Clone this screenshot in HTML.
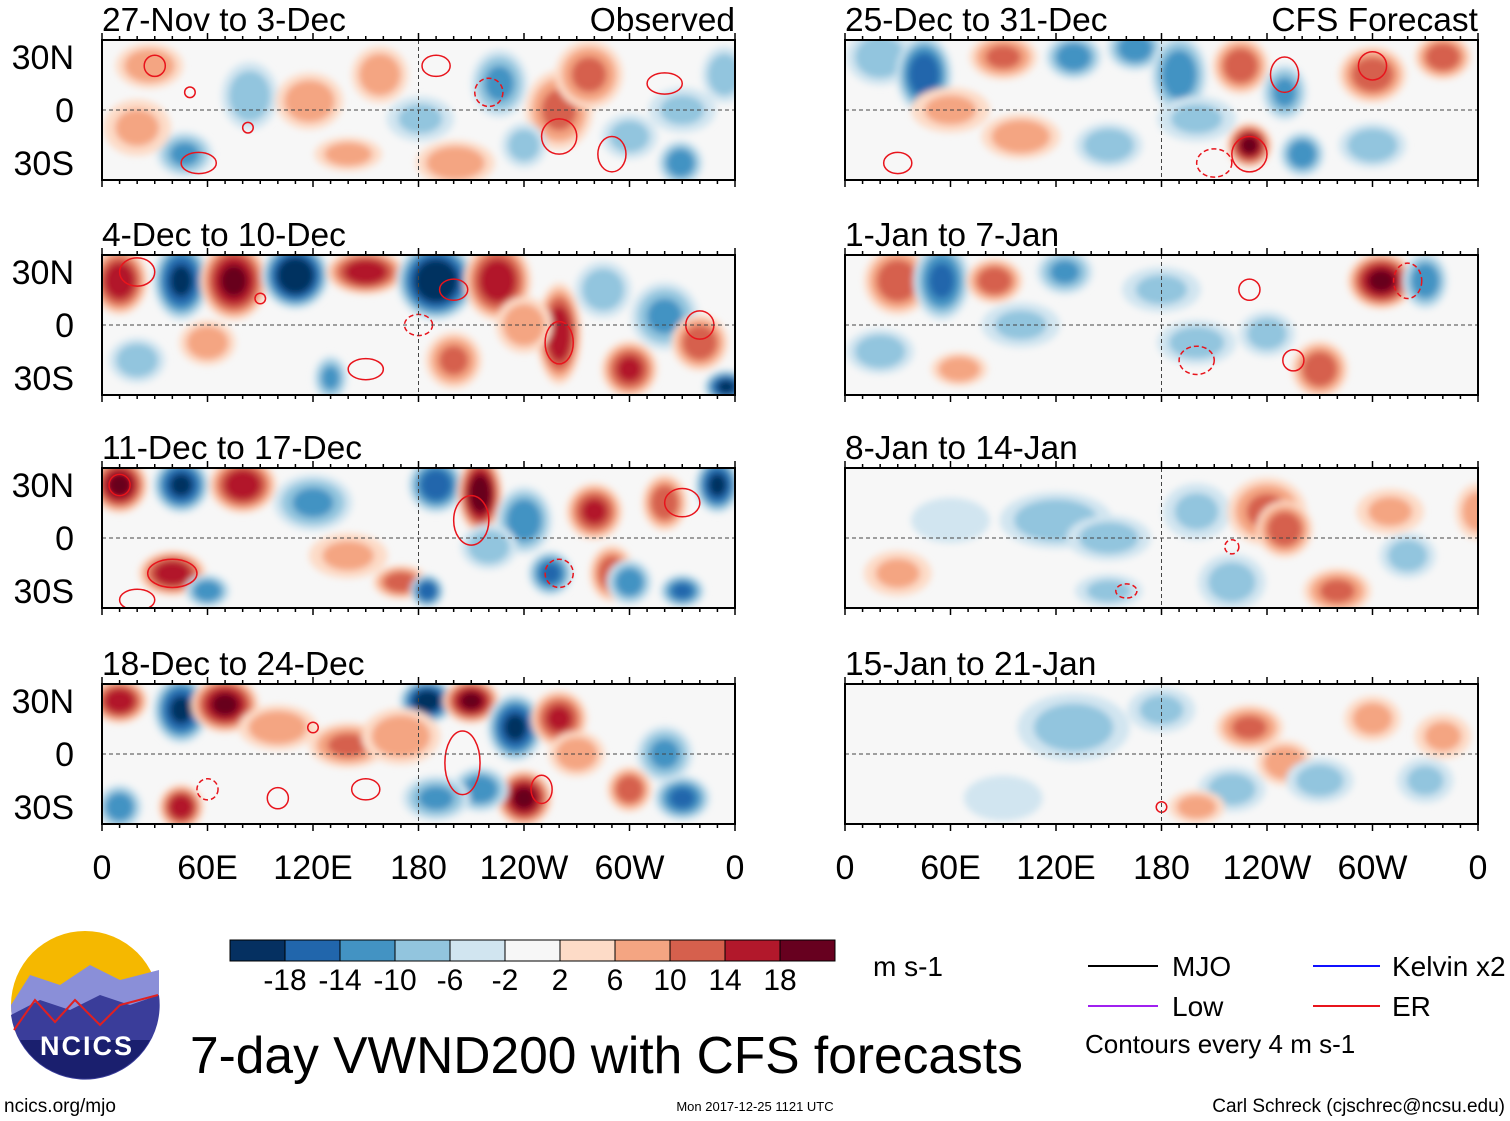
<!DOCTYPE html>
<html><head><meta charset="utf-8"><style>
html,body{margin:0;padding:0;background:#fff;}
body{width:1510px;height:1121px;overflow:hidden;position:relative;font-family:"Liberation Sans",sans-serif;}
svg{position:absolute;left:0;top:0;}
text{font-family:"Liberation Sans",sans-serif;}
</style></head><body>
<svg id="fig" width="1510" height="1121" viewBox="0 0 1510 1121">
<defs>
<filter id="blur" x="-50%" y="-50%" width="200%" height="200%"><feGaussianBlur stdDeviation="3.5"/></filter>
</defs>
<g id="panels"></g>
<g id="legend"></g>
</svg>
<script>
const panelTitles=["27-Nov to 3-Dec","4-Dec to 10-Dec","11-Dec to 17-Dec","18-Dec to 24-Dec","25-Dec to 31-Dec","1-Jan to 7-Jan","8-Jan to 14-Jan","15-Jan to 21-Jan"];
const lonTicks=["0","60E","120E","180","120W","60W","0"];
const latTicks=["30N","0","30S"];
const cbLabels=["-18","-14","-10","-6","-2","2","6","10","14","18"];
const cbColors=["#053061","#2166ac","#4393c3","#92c5de","#d1e5f0","#f7f7f7","#fddbc7","#f4a582","#d6604d","#b2182b","#67001f"];
// anomaly blobs per panel: [lon, lat, value(m/s), lonRadius, latRadius]
const blobs0=[[27,25,6,12,8],[47,-25,-8,10,8],[84,8,-6,10,12],[118,5,6,12,10],[158,20,6,10,10],[181,-5,-4,12,8],[201,-30,6,14,8],[226,15,-8,10,12],[260,0,8,12,14],[277,20,8,12,12],[329,-30,-10,8,8],[354,20,-6,8,10],[300,-15,-5,10,8],[140,-25,5,12,6],[20,-10,4,12,10],[330,0,-4,12,8],[240,-20,-5,8,8]];
const blobs1=[[10,25,14,10,12],[45,25,-16,10,14],[75,25,16,12,14],[110,28,-20,12,12],[150,30,14,14,8],[190,25,-20,14,14],[225,25,14,12,14],[260,-5,14,8,18],[300,-25,12,10,10],[320,5,-8,12,12],[340,-10,10,10,10],[355,-35,-16,8,6],[130,-30,-8,6,8],[60,-10,6,10,8],[200,-20,8,10,10],[285,20,-6,10,10],[240,0,6,10,10],[20,-20,-6,10,8]];
const blobs2=[[10,30,16,10,10],[45,30,-16,10,10],[80,30,14,12,10],[40,-20,14,12,8],[120,20,-8,14,10],[190,30,-14,10,10],[215,25,18,8,14],[240,10,-10,10,12],[255,-20,-12,8,8],[280,15,12,10,10],[290,-20,10,8,10],[320,20,10,8,10],[350,30,-16,8,10],[60,-30,-10,8,6],[170,-25,10,10,6],[185,-30,-14,6,6],[330,-30,-12,8,6],[300,-25,-10,8,8],[140,-10,4,14,8],[220,-5,-6,10,8]];
const blobs3=[[10,30,14,10,8],[45,25,-16,10,12],[70,28,16,12,10],[185,30,-18,10,8],[210,30,16,10,8],[235,15,-16,10,12],[260,20,12,10,10],[240,-25,16,10,10],[215,-20,-10,10,8],[190,-25,-8,12,8],[140,5,8,14,8],[45,-30,14,8,8],[10,-30,-10,8,8],[330,-25,-12,10,8],[320,0,-8,10,10],[300,-20,10,8,8],[170,10,6,14,10],[100,15,6,14,8],[270,0,6,10,8]];
const blobs4=[[20,30,-6,12,10],[45,20,-14,10,14],[90,30,8,12,8],[130,30,-10,10,8],[165,35,-10,10,8],[190,20,-10,10,14],[225,25,10,10,10],[230,-20,16,8,8],[250,10,-8,8,10],[260,-25,-10,8,8],[300,20,10,12,10],[340,30,10,10,8],[100,-15,6,14,8],[150,-20,-6,12,8],[300,-20,-6,12,8],[60,0,4,14,8],[200,-5,-4,14,8]];
const blobs5=[[30,25,10,12,12],[55,25,-12,10,14],[85,25,10,10,8],[125,30,-8,10,8],[270,-25,10,10,10],[305,25,16,12,10],[330,25,-10,8,10],[20,-15,-6,12,8],[65,-25,6,10,6],[200,-10,-5,14,8],[240,-5,-5,10,8],[180,20,-4,14,8],[100,0,-4,14,8]];
const blobs6=[[120,10,-6,20,10],[150,0,-5,15,8],[200,15,-4,12,10],[240,15,8,14,12],[250,5,10,10,10],[280,-30,8,12,8],[220,-25,-5,12,10],[150,-30,-4,12,6],[30,-20,4,12,8],[310,15,4,12,8],[320,-10,-5,10,8],[360,15,5,8,10],[60,10,-3,14,8]];
const blobs7=[[130,15,-5,20,12],[180,25,-4,12,8],[230,15,8,12,8],[250,-5,6,10,8],[270,-15,-5,12,8],[220,-20,-5,12,8],[300,20,5,10,8],[330,-15,-4,10,8],[340,10,4,10,8],[200,-30,5,10,6],[90,-25,-3,14,8]];
const allBlobs=[blobs0,blobs1,blobs2,blobs3,blobs4,blobs5,blobs6,blobs7];
// ER contours: [lon, lat, rx(deg), ry(deg), dashed(1)]
const contours0=[[50,10,3,3,0],[83,-10,3,3,0],[55,-30,10,6,0],[190,25,8,6,0],[220,10,8,8,1],[260,-15,10,10,0],[320,15,10,6,0],[30,25,6,6,0],[290,-25,8,10,0]];
const contours1=[[90,15,3,3,0],[150,-25,10,6,0],[200,20,8,6,0],[260,-10,8,12,0],[340,0,8,8,0],[20,30,10,8,0],[180,0,8,6,1]];
const contours2=[[10,30,6,6,0],[40,-20,14,8,0],[210,10,10,14,0],[260,-20,8,8,1],[330,20,10,8,0],[20,-35,10,6,0]];
const contours3=[[150,-20,8,6,0],[205,-5,10,18,0],[120,15,3,3,0],[60,-20,6,6,1],[100,-25,6,6,0],[250,-20,6,8,0]];
const contours4=[[30,-30,8,6,0],[230,-25,10,10,0],[250,20,8,10,0],[300,25,8,8,0],[210,-30,10,8,1]];
const contours5=[[230,20,6,6,0],[255,-20,6,6,0],[200,-20,10,8,1],[320,25,8,10,1]];
const contours6=[[220,-5,4,4,1],[160,-30,6,4,1]];
const contours7=[[180,-30,3,3,0]];
const allContours=[contours0,contours1,contours2,contours3,contours4,contours5,contours6,contours7];

const NS='http://www.w3.org/2000/svg';
function mk(tag,attrs,parent){const e=document.createElementNS(NS,tag);for(const k in attrs)e.setAttribute(k,attrs[k]);parent.appendChild(e);return e;}
function colorFor(v){const b=[-18,-14,-10,-6,-2,2,6,10,14,18];let i=0;while(i<b.length&&v>=b[i])i++;return cbColors[i];}
const pw=633,ph=140;
const panelX=[102,102,102,102,845,845,845,845];
const panelY=[40,255,468,684,40,255,468,684];
function xScale(p,lon){return panelX[p]+lon/360*pw;}
function yScale(p,lat){return panelY[p]+70-lat/30*53;}
const G=document.getElementById('panels');
for(let p=0;p<8;p++){
  const x0=panelX[p],y0=panelY[p];
  const g=mk('g',{},G);
  
  
  const cp=mk('clipPath',{id:'cp'+p},g);
  mk('rect',{x:x0,y:y0,width:pw,height:ph},cp);
  mk('rect',{x:x0,y:y0,width:pw,height:ph,fill:'#f7f7f7'},g);
  const fg=mk('g',{'clip-path':'url(#cp'+p+')'},g);
  const bg=mk('g',{filter:'url(#blur)'},fg);
  allBlobs[p].forEach(b=>{
    const rx=1.6*b[3]/360*pw, ry=1.6*b[4]/30*53;
    const lv=Math.abs(b[2])+2;
    for(let s=2;s<=lv;s+=4){
      const f=Math.sqrt(1-(s-2)/(lv+1));
      const e=mk('ellipse',{cx:xScale(p,b[0]),cy:yScale(p,b[1]),rx:rx*f,ry:ry*f,fill:colorFor(Math.sign(b[2])*(s+1))},bg);
      
      
    }
  });
  allContours[p].forEach(c=>{
    const e=mk('ellipse',{cx:xScale(p,c[0]),cy:yScale(p,c[1]),rx:c[2]/360*pw,ry:c[3]/30*53,fill:'none',stroke:'#e8141c','stroke-width':1.5,'stroke-dasharray':c[4]?'5,3':'none'},fg);
    
    
  });
  mk('line',{x1:x0,x2:x0+pw,y1:yScale(p,0),y2:yScale(p,0),stroke:'#444','stroke-width':1,'stroke-dasharray':'4,3'},fg);
  mk('line',{x1:xScale(p,180),x2:xScale(p,180),y1:y0,y2:y0+ph,stroke:'#444','stroke-width':1,'stroke-dasharray':'4,3'},fg);
  mk('rect',{x:x0,y:y0,width:pw,height:ph,fill:'none',stroke:'#000','stroke-width':2},g);
  for(let l=0;l<=360;l+=10){const X=xScale(p,l);const len=l%60==0?7:4;
    mk('line',{x1:X,x2:X,y1:y0,y2:y0-len,stroke:'#000','stroke-width':1.5},g);
    mk('line',{x1:X,x2:X,y1:y0+ph,y2:y0+ph+len,stroke:'#000','stroke-width':1.5},g);}
  const t=mk('text',{x:x0,y:y0-9,'font-size':33.5,fill:'#000'},g);t.textContent=panelTitles[p];
  
  
  if(p==0||p==4){const r=mk('text',{x:x0+pw,y:y0-9,'font-size':33.5,'text-anchor':'end'},g);r.textContent=p==0?'Observed':'CFS Forecast';
    
    }
  if(p<4){[30,0,-30].forEach((lat,i)=>{const tt=mk('text',{x:74,y:yScale(p,lat)+12,'font-size':34,'text-anchor':'end'},g);tt.textContent=latTicks[i];
    
    });}
  if(p==3||p==7){lonTicks.forEach((s,i)=>{const tt=mk('text',{x:xScale(p,i*60),y:879,'font-size':34,'text-anchor':'middle'},g);tt.textContent=s;
    
    });}
}
const L=document.getElementById('legend');
cbColors.forEach((c,i)=>{const r=mk('rect',{x:230+i*55,y:940,width:55,height:21,fill:c,stroke:'#000','stroke-width':1},L);
  
  });
cbLabels.forEach((s,i)=>{const t=mk('text',{x:285+i*55,y:990,'font-size':30,'text-anchor':'middle'},L);t.textContent=s;
  
  });
</script>
<svg width="1510" height="1121" style="pointer-events:none">
<text x="873" y="976" font-size="28">m s-1</text>
<g><line x1="1088" x2="1158" y1="966" y2="966" stroke="#000" stroke-width="2"/><text x="1172" y="976" font-size="28">MJO</text></g>
<g><line x1="1088" x2="1158" y1="1006" y2="1006" stroke="#a020f0" stroke-width="2"/><text x="1172" y="1016" font-size="28">Low</text></g>
<g><line x1="1313" x2="1380" y1="966" y2="966" stroke="#1010ff" stroke-width="2"/><text x="1392" y="976" font-size="28">Kelvin x2</text></g>
<g><line x1="1313" x2="1380" y1="1006" y2="1006" stroke="#e8141c" stroke-width="2"/><text x="1392" y="1016" font-size="28">ER</text></g>
<text x="1085" y="1053" font-size="26">Contours every 4 m s-1</text>
<text x="190" y="1073" font-size="51.5">7-day VWND200 with CFS forecasts</text>
<g>
<circle cx="85" cy="1005" r="74" fill="#f5b800"/>
<path d="M11,1005 L30,975 L60,985 L90,965 L120,980 L159,970 L159,1005 A74,74 0 0 1 11,1005 Z" fill="#8a8fd8"/>
<path d="M11,1015 L40,1000 L70,1010 L100,995 L130,1005 L159,995 A74,74 0 0 1 11,1015 Z" fill="#3a3d9a"/>
<path d="M14,1030 L35,1000 L55,1022 L75,1000 L100,1025 L120,1005 L158,995" fill="none" stroke="#e02020" stroke-width="2"/>
<path d="M20,1040 L150,1040 A74,74 0 0 1 20,1040 Z" fill="#1a1f6e"/>
<text x="87" y="1055" font-size="27" font-weight="bold" fill="#fff" text-anchor="middle" letter-spacing="2">NCICS</text>
</g>
<text x="4" y="1112" font-size="19">ncics.org/mjo</text>
<text x="755" y="1111" font-size="13" text-anchor="middle">Mon 2017-12-25 1121 UTC</text>
<text x="1505" y="1112" font-size="19" text-anchor="end">Carl Schreck (cjschrec@ncsu.edu)</text>
</svg>
</body></html>
